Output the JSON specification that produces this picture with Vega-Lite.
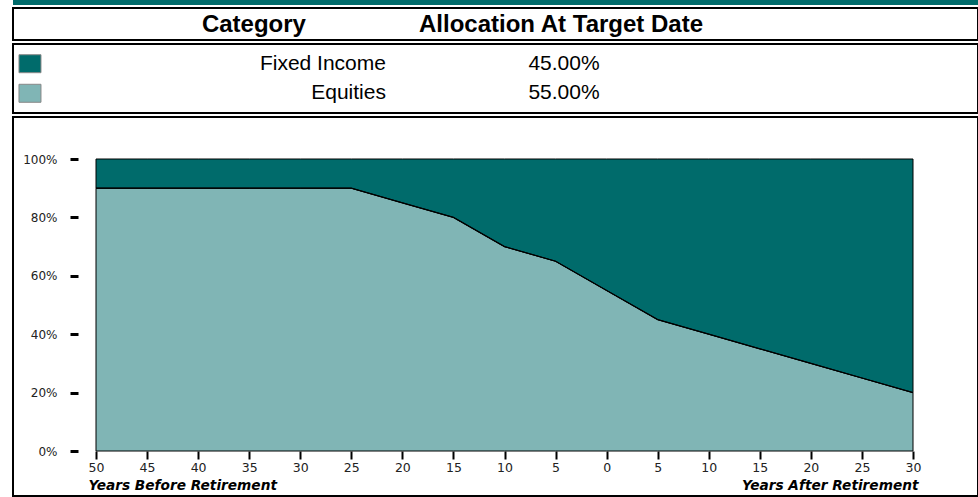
{
  "$schema": "https://vega.github.io/schema/vega-lite/v6.json",
  "padding": {"left": 12, "top": 0, "right": 0, "bottom": 0},
  "background": "white",
  "spacing": 2,
  "datasets": {
    "headers": [
      {"header": "Category"},
      {"header": "Allocation At Target Date"}
    ],
    "alloc": [
      {"category": "Fixed Income", "allocation": "45.00%"},
      {"category": "Equities", "allocation": "55.00%"}
    ],
    "glide": [
      {"t": -50, "category": "Equities", "pct": 90}, {"t": -50, "category": "Fixed Income", "pct": 10},
      {"t": -45, "category": "Equities", "pct": 90}, {"t": -45, "category": "Fixed Income", "pct": 10},
      {"t": -40, "category": "Equities", "pct": 90}, {"t": -40, "category": "Fixed Income", "pct": 10},
      {"t": -35, "category": "Equities", "pct": 90}, {"t": -35, "category": "Fixed Income", "pct": 10},
      {"t": -30, "category": "Equities", "pct": 90}, {"t": -30, "category": "Fixed Income", "pct": 10},
      {"t": -25, "category": "Equities", "pct": 90}, {"t": -25, "category": "Fixed Income", "pct": 10},
      {"t": -20, "category": "Equities", "pct": 85}, {"t": -20, "category": "Fixed Income", "pct": 15},
      {"t": -15, "category": "Equities", "pct": 80}, {"t": -15, "category": "Fixed Income", "pct": 20},
      {"t": -10, "category": "Equities", "pct": 70}, {"t": -10, "category": "Fixed Income", "pct": 30},
      {"t": -5, "category": "Equities", "pct": 65}, {"t": -5, "category": "Fixed Income", "pct": 35},
      {"t": 0, "category": "Equities", "pct": 55}, {"t": 0, "category": "Fixed Income", "pct": 45},
      {"t": 5, "category": "Equities", "pct": 45}, {"t": 5, "category": "Fixed Income", "pct": 55},
      {"t": 10, "category": "Equities", "pct": 40}, {"t": 10, "category": "Fixed Income", "pct": 60},
      {"t": 15, "category": "Equities", "pct": 35}, {"t": 15, "category": "Fixed Income", "pct": 65},
      {"t": 20, "category": "Equities", "pct": 30}, {"t": 20, "category": "Fixed Income", "pct": 70},
      {"t": 25, "category": "Equities", "pct": 25}, {"t": 25, "category": "Fixed Income", "pct": 75},
      {"t": 30, "category": "Equities", "pct": 20}, {"t": 30, "category": "Fixed Income", "pct": 80}
    ]
  },
  "vconcat": [
    {
      "width": 965,
      "height": 5,
      "view": {"stroke": null, "fill": "#006B6B"},
      "data": {"values": [{"band": 1}]},
      "mark": {"type": "rect", "fill": "#006B6B"},
      "encoding": {}
    },
    {
      "width": 965,
      "height": 32,
      "view": {"stroke": "black", "strokeWidth": 2},
      "data": {"name": "headers"},
      "layer": [
        {
          "transform": [{"filter": "datum.header == 'Category'"}],
          "mark": {"type": "text", "font": "Liberation Sans", "fontWeight": "bold", "fontSize": 24, "align": "center", "baseline": "middle", "color": "black", "dy": 1},
          "encoding": {
            "text": {"field": "header"},
            "x": {"datum": 0.2497, "type": "quantitative", "scale": {"domain": [0, 1], "nice": false, "zero": false}, "axis": null}
          }
        },
        {
          "transform": [{"filter": "datum.header != 'Category'"}],
          "mark": {"type": "text", "font": "Liberation Sans", "fontWeight": "bold", "fontSize": 24, "align": "center", "baseline": "middle", "color": "black", "dy": 1},
          "encoding": {
            "text": {"field": "header"},
            "x": {"datum": 0.5679, "type": "quantitative", "scale": {"domain": [0, 1], "nice": false, "zero": false}, "axis": null}
          }
        }
      ]
    },
    {
      "width": 965,
      "height": 69,
      "view": {"stroke": "black", "strokeWidth": 2},
      "data": {"name": "alloc"},
      "encoding": {
        "y": {"field": "category", "type": "nominal", "scale": {"type": "point", "domain": ["Fixed Income", "Equities"], "padding": 0.667}, "axis": null}
      },
      "layer": [
        {
          "mark": {"type": "point", "shape": "M-1,-0.818H1V0.818H-1Z", "size": 484, "filled": true, "stroke": "#888888", "strokeWidth": 1, "opacity": 1},
          "encoding": {
            "x": {"datum": 0.0176, "type": "quantitative", "scale": {"domain": [0, 1], "nice": false, "zero": false}, "axis": null},
            "color": {"field": "category", "type": "nominal", "scale": {"domain": ["Fixed Income", "Equities"], "range": ["#006B6B", "#80B5B5"]}, "legend": null}
          }
        },
        {
          "mark": {"type": "text", "font": "Liberation Sans", "fontSize": 21, "align": "right", "baseline": "middle", "color": "black"},
          "encoding": {
            "text": {"field": "category"},
            "x": {"datum": 0.3865, "type": "quantitative"}
          }
        },
        {
          "mark": {"type": "text", "font": "Liberation Sans", "fontSize": 21, "align": "center", "baseline": "middle", "color": "black"},
          "encoding": {
            "text": {"field": "allocation"},
            "x": {"datum": 0.571, "type": "quantitative"}
          }
        }
      ]
    },
    {
      "width": 965,
      "height": 379,
      "view": {"stroke": "black", "strokeWidth": 2},
      "data": {"name": "glide"},
      "resolve": {"axis": {"x": "independent", "y": "independent"}},
      "layer": [
        {
          "mark": {"type": "area", "stroke": "black", "strokeWidth": 1, "opacity": 1, "strokeJoin": "miter"},
          "encoding": {
            "x": {
              "field": "t", "type": "quantitative",
              "scale": {"domain": [-50, 30], "range": [83, 900], "nice": false, "zero": false},
              "axis": {
                "orient": "bottom", "offset": -45, "values": [-50, -45, -40, -35, -30, -25, -20, -15, -10, -5, 0, 5, 10, 15, 20, 25, 30],
                "labelExpr": "abs(datum.value)", "domain": false, "grid": false,
                "ticks": true, "tickColor": "black", "tickWidth": 2, "tickSize": 8,
                "labelFont": "DejaVu Sans", "labelFontSize": 12.5, "labelColor": "#222222", "labelPadding": 2, "labelFlush": false, "labelOverlap": false,
                "title": "Years Before Retirement", "titleFont": "DejaVu Sans", "titleFontSize": 13.7, "titleFontWeight": "bold", "titleFontStyle": "italic", "titleColor": "black",
                "titleX": 75, "titleY": 38, "titleAlign": "left", "titleBaseline": "alphabetic", "titleAnchor": "start"
              }
            },
            "y": {
              "field": "pct", "type": "quantitative", "stack": "zero",
              "scale": {"domain": [0, 100], "range": [334, 42], "nice": false},
              "axis": {
                "orient": "left", "offset": -65, "values": [0, 20, 40, 60, 80, 100], "labelExpr": "datum.value + '%'",
                "domain": false, "grid": false, "tickColor": "black", "tickWidth": 3, "tickSize": 8,
                "labelFont": "DejaVu Sans", "labelFontSize": 12, "labelColor": "#222222", "labelPadding": 13, "title": null
              }
            },
            "color": {"field": "category", "type": "nominal", "legend": null},
            "order": {"field": "category", "sort": "ascending"}
          }
        },
        {
          "transform": [{"filter": "datum.category == 'Equities'"}],
          "mark": {"type": "line", "color": "black", "strokeWidth": 1.2},
          "encoding": {
            "x": {
              "field": "t", "type": "quantitative",
              "axis": {
                "orient": "bottom", "offset": -45, "labels": false, "ticks": false, "domain": false, "grid": false,
                "title": "Years After Retirement", "titleFont": "DejaVu Sans", "titleFontSize": 13.7, "titleFontWeight": "bold", "titleFontStyle": "italic", "titleColor": "black",
                "titleX": 905, "titleY": 38, "titleAlign": "right", "titleBaseline": "alphabetic", "titleAnchor": "end"
              }
            },
            "y": {"field": "pct", "type": "quantitative", "axis": null}
          }
        }
      ]
    }
  ]
}
